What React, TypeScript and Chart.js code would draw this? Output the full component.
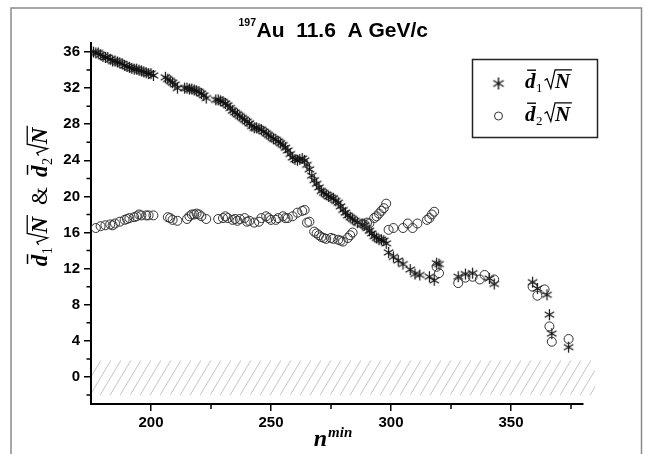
import React, { useEffect, useRef } from 'react';
import { Chart, registerables } from 'chart.js';

Chart.register(...registerables);

// ---- data: d1*sqrt(N) (asterisks) ----
const d1Nmin = [
  176, 177, 178, 179, 180, 181, 182, 183, 184, 185, 186, 187, 188, 189, 190, 191, 192, 193, 194, 195, 196, 197, 198, 199, 200, 201,
  206, 207, 208, 209, 210, 211,
  214, 215, 216, 217, 218, 219, 220, 221, 222, 223,
  227, 228, 229, 230, 231, 232, 233, 234, 235, 236, 237, 238, 239, 240, 241, 242, 243,
  244, 245, 246, 247, 248, 249, 250, 251, 252, 253, 254, 255, 256, 257, 258, 259, 260, 261, 262, 263, 264, 265, 266,
  267, 268, 269, 270, 271, 272, 273, 274, 275, 276, 277, 278, 279, 280, 281, 282, 283, 284, 285, 286,
  288, 289, 290, 291, 292, 293, 294, 295, 296, 297, 298, 299,
  301, 303, 305, 308, 310, 312, 316, 318, 319, 320,
  328, 331, 334, 341, 343,
  359, 361, 365, 366, 367, 374,
];
const d1Value = [
  36.0, 35.9, 35.9, 35.7, 35.5, 35.4, 35.4, 35.2, 35.0, 35.0, 34.9, 34.8, 34.7, 34.5, 34.4, 34.3, 34.2, 34.1, 34.1, 34.0, 33.9, 33.8, 33.7, 33.6, 33.6, 33.4,
  33.2, 33.0, 32.8, 32.6, 32.4, 32.0,
  32.0, 32.0, 31.9, 31.9, 31.8, 31.7, 31.6, 31.4, 31.2, 30.9,
  30.7, 30.7, 30.6, 30.5, 30.3, 30.1, 29.8, 29.5, 29.3, 29.1, 28.9, 28.7, 28.5, 28.3, 28.1, 27.8, 27.6,
  27.6, 27.5, 27.4, 27.2, 27.0, 26.8, 26.6, 26.4, 26.3, 26.1, 25.9, 25.7, 25.4, 25.1, 24.7, 24.3, 24.1, 24.0, 24.1, 24.2, 24.0, 23.5, 23.0,
  22.3, 21.8, 21.4, 21.0, 20.6, 20.4, 20.2, 20.0, 19.9, 19.8, 19.5, 19.3, 18.9, 18.5, 18.2, 17.9, 17.7, 17.5, 17.3, 17.1,
  16.9, 16.8, 16.5, 16.2, 15.9, 15.6, 15.4, 15.2, 15.2, 15.1, 14.8, 13.8,
  13.3, 12.9, 12.5, 11.9, 11.4, 11.3, 11.1, 10.7, 12.6, 12.5,
  11.1, 11.4, 11.5, 10.9, 10.3,
  10.5, 9.8, 9.1, 6.9, 4.8, 3.3,
];

// ---- data: d2*sqrt(N) (open circles) ----
const d2Nmin = [
  177, 179, 181, 183, 184, 185, 187, 189, 190, 191, 193, 194, 195, 196, 198, 199, 201,
  207, 208, 209, 211, 215, 216, 217, 218, 219, 220, 221, 223,
  228, 230, 231, 232, 234, 235, 236, 237, 239, 240, 241, 243, 245, 246, 248, 249, 250,
  252, 253, 255, 256, 257, 259, 261, 263, 264, 265, 266,
  268, 269, 270, 271, 272, 273, 275, 276, 278, 279, 280, 282, 283, 284,
  288, 289, 290, 291, 293, 294, 295, 296, 297, 298,
  299, 301, 305, 307, 309, 311, 315, 316, 317, 318,
  319, 320, 328, 331, 334, 337, 339, 343,
  359, 361, 364, 366, 367, 374,
];
const d2Value = [
  16.5, 16.7, 16.8, 16.9, 16.8, 17.0, 17.2, 17.4, 17.5, 17.6, 17.7, 17.8, 18.0, 17.9, 17.9, 17.9, 17.9,
  17.7, 17.6, 17.4, 17.3, 17.5, 17.8, 18.0, 18.0, 18.1, 18.0, 17.8, 17.5,
  17.5, 17.6, 17.8, 17.6, 17.4, 17.5, 17.3, 17.5, 17.6, 17.2, 17.3, 17.1, 17.2, 17.6, 17.8, 17.6, 17.4,
  17.4, 17.6, 17.8, 17.6, 17.6, 17.8, 18.2, 18.4, 18.5, 17.1, 17.2,
  16.1, 15.9, 15.7, 15.5, 15.4, 15.3, 15.4, 15.3, 15.2, 15.1, 15.0, 15.4, 15.7, 16.0,
  17.0, 16.9, 17.1, 17.0, 17.6, 17.8, 18.1, 18.4, 18.7, 19.2,
  16.3, 16.5, 16.5, 17.0, 16.5, 17.0, 17.4, 17.6, 18.0, 18.3,
  12.2, 11.5, 10.4, 11.0, 11.1, 10.8, 11.3, 10.8,
  10.0, 9.0, 9.7, 5.6, 3.9, 4.2,
];

// ---- axes ----
const xRange = [175, 380];
const xTickValues = [200, 250, 300, 350];
const xMinorTicks = [225, 275, 325, 375];
const yRange = [-3, 37];
const yTickValues = [0, 4, 8, 12, 16, 20, 24, 28, 32, 36];
const yMinorTicks = [-2, 2, 6, 10, 14, 18, 22, 26, 30, 34];
const hatchValueBand = [-2, 1.85];
const hatchXEnd = 385;

// ---- texts ----
const titleMass = '197';
const titleText = 'Au  11.6  A GeV/c';
const legendSubscripts = ['1', '2'];
const xTitleBase = 'n';
const xTitleSup = 'min';
const ampersand = '&';

const SERIF = '"Liberation Serif", "DejaVu Serif", serif';
const SANS = '"Liberation Sans", Arial, sans-serif';

function makeStar(r: number, color: string, lw: number) {
  const size = Math.ceil(2 * r + 2);
  const c = document.createElement('canvas');
  c.width = size;
  c.height = size;
  const g = c.getContext('2d') as CanvasRenderingContext2D;
  g.strokeStyle = color;
  g.lineWidth = lw;
  const cx = size / 2;
  const cy = size / 2;
  g.beginPath();
  for (let k = 0; k < 3; k++) {
    const a = Math.PI / 2 + (k * Math.PI) / 3;
    g.moveTo(cx + r * Math.cos(a), cy + r * Math.sin(a));
    g.lineTo(cx - r * Math.cos(a), cy - r * Math.sin(a));
  }
  g.stroke();
  return c;
}

// draws  d̄_k √N  with left baseline at (x,y); returns width
function drawDN(ctx: CanvasRenderingContext2D, x: number, y: number, sub: string, s: number) {
  ctx.font = `italic bold ${s}px ${SERIF}`;
  const dW = ctx.measureText('d').width;
  ctx.fillText('d', x, y);
  ctx.fillRect(x + 0.1 * s, y - 0.88 * s, dW * 0.85, Math.max(1.3, 0.065 * s));
  let cx = x + dW + 0.02 * s;
  ctx.font = `${0.62 * s}px ${SERIF}`;
  ctx.fillText(sub, cx, y + 0.2 * s);
  cx += ctx.measureText(sub).width + 0.1 * s;
  ctx.font = `italic bold ${s}px ${SERIF}`;
  const nW = ctx.measureText('N').width;
  ctx.beginPath();
  ctx.lineWidth = Math.max(1.2, 0.055 * s);
  ctx.moveTo(cx, y - 0.36 * s);
  ctx.lineTo(cx + 0.12 * s, y - 0.44 * s);
  ctx.lineTo(cx + 0.3 * s, y + 0.02 * s);
  ctx.lineTo(cx + 0.5 * s, y - 0.86 * s);
  ctx.lineTo(cx + 0.58 * s + nW, y - 0.86 * s);
  ctx.stroke();
  ctx.fillText('N', cx + 0.5 * s, y);
  return cx + 0.58 * s + nW - x;
}

function measureDN(ctx: CanvasRenderingContext2D, sub: string, s: number) {
  ctx.font = `italic bold ${s}px ${SERIF}`;
  const dW = ctx.measureText('d').width;
  const nW = ctx.measureText('N').width;
  ctx.font = `${0.62 * s}px ${SERIF}`;
  const sW = ctx.measureText(sub).width;
  return dW + 0.02 * s + sW + 0.1 * s + 0.58 * s + nW;
}

const decor = {
  id: 'decor',
  beforeDraw(chart: any) {
    const ctx: CanvasRenderingContext2D = chart.ctx;
    const xs = chart.scales.x;
    const ys = chart.scales.y;
    ctx.save();
    ctx.fillStyle = '#ffffff';
    ctx.fillRect(0, 0, chart.width, chart.height);
    // outer frame
    ctx.strokeStyle = '#8a8a8a';
    ctx.lineWidth = 1.5;
    ctx.strokeRect(11, 8, 630.5, 500);
    // hatched band
    const x0 = xs.left;
    const x1 = xs.getPixelForValue(hatchXEnd);
    const yT = ys.getPixelForValue(hatchValueBand[1]);
    const yB = ys.getPixelForValue(hatchValueBand[0]);
    ctx.beginPath();
    ctx.rect(x0, yT, x1 - x0, yB - yT);
    ctx.clip();
    ctx.strokeStyle = '#c4c4c4';
    ctx.lineWidth = 1;
    const h = yB - yT;
    const dx = h * 0.6;
    ctx.beginPath();
    for (let x = x0 - dx; x < x1 + dx; x += 10) {
      ctx.moveTo(x, yB);
      ctx.lineTo(x + dx, yT);
    }
    ctx.stroke();
    ctx.restore();
  },
  afterDraw(chart: any) {
    const ctx: CanvasRenderingContext2D = chart.ctx;
    const xs = chart.scales.x;
    const ys = chart.scales.y;
    ctx.save();
    // minor ticks
    ctx.strokeStyle = '#000';
    ctx.lineWidth = 1.5;
    ctx.beginPath();
    for (const v of xMinorTicks) {
      const px = xs.getPixelForValue(v);
      ctx.moveTo(px, xs.top);
      ctx.lineTo(px, xs.top + 5);
    }
    for (const v of yMinorTicks) {
      const py = ys.getPixelForValue(v);
      ctx.moveTo(ys.right, py);
      ctx.lineTo(ys.right - 4.5, py);
    }
    ctx.stroke();

    ctx.fillStyle = '#000';
    ctx.strokeStyle = '#000';
    ctx.textBaseline = 'alphabetic';
    ctx.textAlign = 'left';

    // title
    ctx.font = `bold 10.5px ${SANS}`;
    const mW = ctx.measureText(titleMass).width;
    ctx.font = `bold 21px ${SANS}`;
    const tW = ctx.measureText(titleText).width;
    const tLeft = 333 - (mW + tW) / 2;
    ctx.font = `bold 10.5px ${SANS}`;
    ctx.fillText(titleMass, tLeft, 26);
    ctx.font = `bold 21px ${SANS}`;
    ctx.fillText(titleText, tLeft + mW + 0.5, 37);

    // x title
    ctx.font = `italic bold 24px ${SERIF}`;
    const nW = ctx.measureText(xTitleBase).width;
    ctx.font = `italic bold 15px ${SERIF}`;
    const supW = ctx.measureText(xTitleSup).width;
    const xl = 333 - (nW + supW + 1) / 2;
    ctx.font = `italic bold 24px ${SERIF}`;
    ctx.fillText(xTitleBase, xl, 446);
    ctx.font = `italic bold 15px ${SERIF}`;
    ctx.fillText(xTitleSup, xl + nW + 1, 437);

    // y title (rotated)
    const s = 23;
    const w1 = measureDN(ctx, legendSubscripts[0], s);
    const w2 = measureDN(ctx, legendSubscripts[1], s);
    ctx.font = `${s}px ${SERIF}`;
    const ampW = ctx.measureText(ampersand).width;
    const gap = 10;
    const total = w1 + gap + ampW + gap + w2;
    ctx.save();
    ctx.translate(47, 196);
    ctx.rotate(-Math.PI / 2);
    let cx = -total / 2;
    drawDN(ctx, cx, 0, legendSubscripts[0], s);
    cx += w1 + gap;
    ctx.font = `${s}px ${SERIF}`;
    ctx.fillText(ampersand, cx, 0);
    cx += ampW + gap;
    drawDN(ctx, cx, 0, legendSubscripts[1], s);
    ctx.restore();

    // legend box
    ctx.lineWidth = 1.5;
    ctx.strokeStyle = '#222';
    ctx.strokeRect(472.5, 59.5, 125, 78);
    const star = makeStar(6, '#111', 1.4);
    ctx.drawImage(star, 498.5 - star.width / 2, 83.5 - star.height / 2);
    ctx.beginPath();
    ctx.lineWidth = 1;
    ctx.strokeStyle = '#333';
    ctx.arc(498.5, 116, 4, 0, Math.PI * 2);
    ctx.stroke();
    ctx.fillStyle = '#000';
    ctx.strokeStyle = '#000';
    drawDN(ctx, 525, 88, legendSubscripts[0], 21);
    drawDN(ctx, 525, 121, legendSubscripts[1], 21);
    ctx.restore();
  },
};

export default function App() {
  const ref = useRef<HTMLCanvasElement | null>(null);
  useEffect(() => {
    const canvas = ref.current;
    if (!canvas) return;
    const starImg = makeStar(5.5, '#111', 1.2);
    const tickFont = { family: SANS, size: 15, weight: 'bold' as const };
    const chart = new Chart(canvas, {
      type: 'scatter',
      data: {
        datasets: [
          {
            label: 'd2',
            data: d2Nmin.map((n, i) => ({ x: n, y: d2Value[i] })),
            pointStyle: 'circle',
            pointRadius: 4.5,
            borderColor: '#333',
            backgroundColor: 'rgba(255,255,255,0)',
            borderWidth: 1,
          },
          {
            label: 'd1',
            data: d1Nmin.map((n, i) => ({ x: n, y: d1Value[i] })),
            pointStyle: starImg as any,
            pointRadius: 5.5,
            borderColor: '#111',
            backgroundColor: '#111',
          },
        ],
      },
      options: {
        responsive: false,
        animation: false,
        events: [],
        layout: { padding: { left: 0, top: 43, right: 62, bottom: 0 } },
        plugins: {
          legend: { display: false },
          title: { display: false },
          tooltip: { enabled: false },
        },
        scales: {
          x: {
            type: 'linear',
            min: xRange[0],
            max: xRange[1],
            afterBuildTicks: (sc: any) => {
              sc.ticks = xTickValues.map((v) => ({ value: v }));
            },
            afterFit: (sc: any) => {
              sc.height = 50;
            },
            border: { display: true, color: '#000', width: 2 },
            grid: { drawOnChartArea: false, drawTicks: true, tickLength: 7, color: '#000', lineWidth: 1.5 },
            ticks: { color: '#000', font: tickFont, padding: 3, maxRotation: 0, autoSkip: false },
          },
          y: {
            type: 'linear',
            min: yRange[0],
            max: yRange[1],
            afterBuildTicks: (sc: any) => {
              sc.ticks = yTickValues.map((v) => ({ value: v }));
            },
            afterFit: (sc: any) => {
              sc.width = 91;
            },
            border: { display: true, color: '#000', width: 2 },
            grid: { drawOnChartArea: false, drawTicks: true, tickLength: 7, color: '#000', lineWidth: 1.5 },
            ticks: { color: '#000', font: tickFont, padding: 4, autoSkip: false },
          },
        },
      } as any,
      plugins: [decor],
    });
    return () => chart.destroy();
  }, []);
  return (
    <div style={{ position: 'absolute', left: 0, top: 0, width: 645, height: 454, background: '#fff' }}>
      <canvas ref={ref} width={645} height={454} style={{ width: 645, height: 454, display: 'block' }} />
    </div>
  );
}
